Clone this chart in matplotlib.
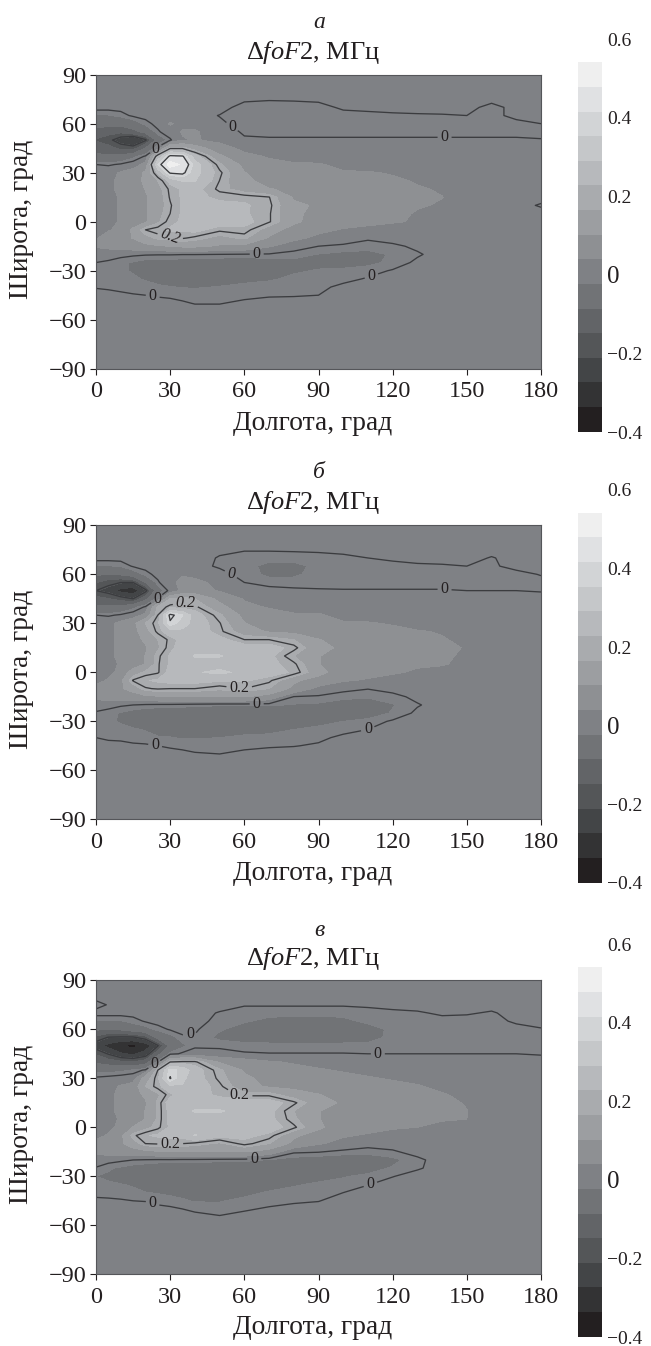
import numpy as np
import matplotlib
matplotlib.use("Agg")
import matplotlib.pyplot as plt
from matplotlib.colors import ListedColormap, BoundaryNorm

plt.rcParams['font.family'] = ['Liberation Serif', 'DejaVu Serif']
plt.rcParams['mathtext.fontset'] = 'custom'
plt.rcParams['mathtext.rm'] = 'Liberation Serif'
plt.rcParams['mathtext.it'] = 'Liberation Serif:italic'

W, H = 651, 1346
INK = '#231f20'

LON = [0,5,10,15,20,25,30,35,40,50,60,70,80,90,100,110,120,130,140,150,160,170,180]
LAT = [90,80,75,70,65,60,55,50,45,40,35,30,25,20,15,10,5,0,-5,-10,-15,-20,-25,-30,-35,-40,-45,-50,-55,-90]

# values in hundredths of MHz, rows follow LAT, columns follow LON
BG = [1,1,1,1,1,1,1,1,1,1,1,1,1,1,1,1,1,1,1,1,1,1,1]

PANEL_A = [
 BG, BG,
 [1,1,1,1,1,1,1,1,1,1,.5,.2,.3,.6,1,1,1,1,1,1,1,1,1],
 [1,1,1,1,1,1,1,1,1,1,-1,-1,-1,-1,.5,1,1,1,1,1,-1,1,1],
 [-2,-2,-1,.5,1,1,1,1,1,-.1,-1,-1,-1,-1,-1,-1,-.5,-.3,-.2,0,-1,1,1],
 [-6,-6,-6,-4,-1,1,5,3,3,.5,-1,-1,-1,-1,-1,-1,-1,-1,-1,-1,-1,-1,0],
 [-10,-12,-13,-10,-6,-.5,2,5,5,2,-.5,-1,-1,-1,-1,-1,-1,-1,-1,-1,-1,-1,-1],
 [-15,-18,-24,-28,-21,-5,-.5,4,5,3,.5,.5,.5,.5,.5,.5,.5,.5,.5,.5,.5,.5,.2],
 [-10,-12,-16,-17,-8,1,19,19,14,7,3,2,2,2,2,1.5,1.5,1.5,1.5,1.5,1.5,1.5,1.5],
 [-7,-7,-6,-3,.5,24,42,41,26,12,6,4,3,2,2,2,1.5,1.5,1,1,1,1,1],
 [0,-.5,.5,2,6,36,52,47,33,18,9,6,5,5,3,2,1.5,1,1,1,1,1,1],
 [2,3,5,7,12,24,41,42,32,21,11,8,7,6,5,5,4,2,1,1,1,1,1],
 [2,3,6,8,12,17,25,30,30,19.9,12,9,8,8,7,6,5.5,4,3,1,1,1,1],
 [2,3,6,8,11,15,21,24,25,19,14,11,10,10,8,7,6,5,4,2,1,1,1],
 [2,3,5,8,10,14,20.5,24,25,22,22,20.2,10,9,8,7,6,5.5,4.6,2,1,1,1],
 [2,3,5,7,10,14,19.5,24,25,25,24,21,12,10,8,7,6,5,4,2,1,1,-.3],
 [1,3,5,7,10,15,20,24,25,25,24,20.5,12,9,8,7,6,4,3,1,1,1,1],
 [1,3,5,7,10,16,22,24,26,26,25,20.5,12,8,7,6,5,4,2,1,1,1,1],
 [2,4,6,12,20,22,24,24,25,21,22,14,8,6,4,3,2,1,1,1,1,1,1],
 [4,7,9,11,15,18,19,20.5,19,15,18,10,6,3,1,.3,1,1,1,1,1,1,1],
 [5,6,7,8,9,10,11,12,12,10,9,5,1.5,0,-.3,-.8,-.5,.5,1,1,1,1,1],
 [2,1.5,1,.5,.3,.2,.2,.1,.1,0,-.2,-.3,-1,-1.9,-2.5,-2.7,-1.5,-.3,1,1,1,1,1],
 [0,-.5,-1.5,-2,-3,-3,-3,-3.5,-3.5,-4,-4,-3.5,-2.5,-2.2,-2.5,-2.5,-1.2,.5,1,1,1,1,1],
 [-1,-1,-1.5,-2,-3,-3.5,-3.5,-4,-4,-4,-4,-3.5,-2,-1.7,-1.5,-.8,.2,1,1,1,1,1,1],
 [-1,-1.2,-1.3,-1.5,-2,-2.5,-3,-3,-3,-2.8,-2.5,-2,-1.5,-1.2,-.6,.2,1,1,1,1,1,1,1],
 [-.2,-.5,-.7,-1,-1,-1.5,-1.7,-1.9,-2,-1.7,-1.2,-1.2,-1,-.5,.5,1,1,1,1,1,1,1,1],
 [1,1,.5,.2,0,-.3,-.5,-.7,-.8,-.8,-.6,-.3,-.2,0,1,1,1,1,1,1,1,1,1],
 [1,1,1,1,1,1,.8,.3,-.1,-.1,.5,1,1,1,1,1,1,1,1,1,1,1,1],
 BG, BG,
]

PANEL_B = [
 BG, BG,
 [1,1,1,1,1,1,1,1,1,.5,.2,.2,.3,.5,.6,1,1,1,1,1,1,1,1],
 [1,1,1,1,1,1,1,1,1,-.2,-1,-1,-1,-1,-.5,0,.5,1,1,1,-.2,1,1],
 [-2,-2,-1.5,.3,1,1,1,1,1,-.4,-1,-2.5,-2.5,-1.2,-1,-1,-.8,-.5,-.3,0,-.5,1,1],
 [-7,-8,-7,-4,-1,1,3,4,3,1,-1,-2.2,-2.2,-1,-1,-1,-1,-1,-1,-1,-1,-1,.2],
 [-14,-18,-20,-20,-8,-.5,3,6,6,3,0,-1,-1,-1,-1,-1,-1,-1,-1,-1,-1,-1,-1],
 [-20,-23,-29,-31,-22,-4,1,6,7,4,1.5,1,.5,.3,.2,.2,.2,.2,.2,0,0,0,-.3],
 [-12,-14,-17,-20,-10,.5,17,19,17,9,4,3,3,2,2,2,2,2,1.5,1.5,1.5,1.5,1.5],
 [-7,-7,-6,-3,.5,18,21,21,21,13,6,4,3,3,2,2,2,1.5,1,1,1,1,1],
 [0,-.5,.5,2,6,20,42,36,26,18,9,7,5,5,3,2,2,1,1,1,1,1,1],
 [2,3,6,9,17,22,39,33,27,20.3,11,8,7,6,5,5,4,2,1,1,1,1,1],
 [2,3,6,8,15,21,27,28,27,21,14,10,9,8,8,7,6,5,4,2,1,1,1],
 [2,3,6,8,12,17,21,25,25,25,20,20,17,11,9,8,7,6,5,3,1,1,1],
 [2,3,6,8,10,16,22,26,27,27,26,26,21.5,12,10,8,7,6,5.5,4.2,1,1,1],
 [2,3,6,8,11,19,24,27,30,30,27,25,17,11,9,8,7,6,5.5,3.5,1,1,1],
 [1,3,5,7,11,19.5,24,26,27,27,27,25,21,11,8,7,6,5,5,3,1,1,1],
 [1,3,6,14,18,19.5,25,25,29,31,28,26,22.5,13,7,6,5,4,2.5,1,1,1,1],
 [3,5,9,20.5,23,24,25,25,25,24,24,21,12,8,5,4,3,2,1,1,1,1,1],
 [6,8,10,13,19.5,20.5,20,20,20,18,20,17,9,3,.8,.1,.8,1,1,1,1,1,1],
 [6,7,8,8,9,10,11,11,11,11,11,8,-.2,-.5,-1.2,-1.5,-.7,.6,1,1,1,1,1],
 [2,1,.4,0,-.5,-.7,-.8,-1,-1.2,-1.5,-1.5,-1.5,-2,-2.2,-3,-3.5,-2,-.2,1,1,1,1,1],
 [-.5,-1,-2,-3,-3.5,-4,-4,-4,-4.5,-4.5,-4.5,-4.5,-3,-3.2,-3.5,-3.5,-1.5,.5,1,1,1,1,1],
 [-1,-1.5,-2,-3,-4,-4,-4.5,-4.5,-4.5,-4.5,-4.5,-4,-3,-2.5,-1.8,-1,.3,1,1,1,1,1,1],
 [-1,-1.2,-1.3,-1.5,-2,-3,-3,-3.5,-3.5,-3.5,-3,-2.5,-1.8,-1.3,-.7,0,1,1,1,1,1,1,1],
 [0,-.5,-.7,-1,-1,-1.5,-1.7,-2,-2,-1.8,-1.2,-1.2,-1,-.5,.5,1,1,1,1,1,1,1,1],
 [1,1,1,.5,.3,0,-.4,-.6,-.8,-.8,-.5,-.3,-.1,.3,1,1,1,1,1,1,1,1,1],
 [1,1,1,1,1,1,1,.6,.2,0,.5,1,1,1,1,1,1,1,1,1,1,1,1],
 BG, BG,
]

PANEL_C = [
 BG, BG,
 [-1,.2,1,1,1,1,1,1,1,1,.2,.2,.2,.2,.2,.5,1,1,1,1,1,1,1],
 [1,1,1,1,1,1,1,1,1,-.2,-1,-1,-1,-1,-1,-1,-.7,-.3,.4,.3,-.3,1,1],
 [-2,-2,-2,-1,.3,1,1,1,1,-.8,-1.5,-2.5,-3,-3,-2.5,-1.2,-1,-1,-.8,-1,-1,.5,1],
 [-7,-8,-7,-4,-3,-1,.3,1,.3,-1.5,-3,-3.5,-3.5,-3.5,-3.5,-3,-1.2,-1,-1,-1,-1,-1,-.2],
 [-16,-20.5,-21,-21,-17,-6,-3,-.5,-.2,-2.5,-3.5,-3.5,-3.5,-3.5,-3.5,-3,-1,-1,-1,-1,-1,-1,-1],
 [-24,-29,-33,-35,-31,-20.5,-6,-2.5,-.4,-.4,-.7,-1,-1,-1,-1,-1,-1,-1,-1,-1,-1,-1,-1],
 [-15,-20.5,-26,-28,-24,-10,-1,.5,1,.7,.2,.1,.1,.1,.1,0,0,0,0,0,0,0,-.3],
 [-9,-11,-13,-14,-11,-.5,20,21,21,10,7,5,4,3,2,2,1.5,1.5,1.5,1.5,1.5,1.5,1.5],
 [-3,-3,-2.5,-1.5,.5,20,38,34,26,18,10,7,6,5,4,3,2,2,1.5,1,1,1,1],
 [.5,1,1.5,2,14,22,40.5,31,26,19,12,9,7,6,6,5,4,3,2,1,1,1,1],
 [2,3,5,7,17,21.5,28,29,27,21,13,10,9,8,8,7,6,5,3,1,1,1,1],
 [2,3,6,8,12,16,22,26,26,22,19,19,14,11,9,8,7,6,5,3,1,1,1],
 [2,3,6,8,10,18,26,27,27,27,26,26,21,13,10,8,7,6,5.5,4.2,1,1,1],
 [2,3,6,8,11,18,25,28,30,30,28,25,17,11,9,8,7,6,5.5,4.6,1,1,1],
 [1,3,5,7,11,18,25,26,27,28,27,25,18,11,8,7,6,5,5,4.5,1,1,1],
 [1,3,6,11,15,19,24,25,27,29,28,26,21,12,7,6,5,4.5,3,1,1,1,1],
 [3,5,9,19,23,24,25,25,30,25,25,22,12,8,5,4,3,2,1,1,1,1,1],
 [6,8,10,14,20,20.5,20.5,20,19,16,21.5,17,9,5,3,1,1,1,1,1,1,1,1],
 [6,7,8,8,9,10,11,11,11,11,11,8,.5,.2,-.8,-1,-.3,.8,1,1,1,1,1],
 [1.5,1,.5,0,-.3,-.5,-.5,-.7,-.7,-1,-1.2,-2,-3,-3.5,-3.5,-3.5,-2.5,-.5,1,1,1,1,1],
 [-.2,-1.5,-2.2,-3,-3.5,-4,-4,-4.5,-4.5,-4.5,-4.5,-4.5,-3.5,-3.5,-3.5,-3,-1.5,-.3,1,1,1,1,1],
 [-1.8,-2.2,-3,-3.5,-4,-4.5,-4.5,-4.5,-4.5,-4.5,-4.5,-4,-3,-2.5,-2,-1.2,-.1,1,1,1,1,1,1],
 [-1.2,-1.5,-1.7,-2,-3,-3.5,-3.5,-4,-4,-4,-3.5,-3,-2,-1.5,-1,-.1,1,1,1,1,1,1,1],
 [-.7,-1,-1.2,-1.4,-1.7,-2,-2.5,-2.5,-3,-3,-2.5,-1.5,-1.2,-1,0,1,1,1,1,1,1,1,1],
 [.5,.5,.3,0,-.1,-.5,-.7,-1.5,-2,-2,-1.2,-.8,-.5,-.1,1,1,1,1,1,1,1,1,1],
 [1,1,1,1,1,.5,.3,0,-.5,-.8,-.3,.3,1,1,1,1,1,1,1,1,1,1,1],
 [1,1,1,1,1,1,1,1,.8,.2,.8,1,1,1,1,1,1,1,1,1,1,1,1],
 BG,
]

BAND_EDGES = [-0.394,-0.331,-0.268,-0.206,-0.143,-0.080,-0.018,0.045,0.108,0.170,0.233,0.296,0.358,0.421,0.484,0.547]
BAND_COLORS = ['#231f20','#333334','#434547','#545658','#626467','#717376','#7f8185','#8e9093',
               '#9c9ea1','#a9abae','#b7b9bc','#c5c7c9','#d2d4d6','#e0e1e3','#efefef']
LABELLED_LEVELS = [0,0.2]
PLAIN_LEVELS = [-0.2,0.4]
LETTERS = ['а','б','в']
LEFT_TICKS = [90,60,30,0,-30,-60,-90]
BOTTOM_TICKS = [0,30,60,90,120,150,180]
CB_LABELS = [(0.6,'0.6',14),(0.4,'0.4',14),(0.2,'0.2',14),(0,'0',18),(-0.2,'−0.2',14),(-0.4,'−0.4',14)]

LABELS_A = [(24,45),(54,56),(141,52),(65,-19),(112,-36),(23,-45),(30,-9)]
LABELS_B = [(25,44),(53,55),(141,51),(65,-19),(110,-35),(24,-44),(36,40),(58,-9)]
LABELS_C = [(23,40),(38,56),(114,45),(64,-18),(111,-35),(23,-46),(58,19),(30,-9)]
ITALIC_LABELS = [{6:-20},{1:0,6:0},{}]

# layout in pixels
TOPS = [74.7,525.3,980.3]
HEIGHT = 294.0
OFFS = [0,450.6,905]
LETTER_Y = [23,473,930]
TITLE_Y = [52,503,959]

fig = plt.figure(figsize=(W/100,H/100),dpi=100,facecolor='white')
cmap = ListedColormap(BAND_COLORS)
norm = BoundaryNorm(BAND_EDGES,cmap.N)

def fmt(v):
    return '0' if abs(v)<1e-9 else ('%.1f'%v).replace('-','−')

def axrect(l,t,w,h):
    return [l/W,1-(t+h)/H,w/W,h/H]

for i,(vals,lbls) in enumerate(zip([PANEL_A,PANEL_B,PANEL_C],[LABELS_A,LABELS_B,LABELS_C])):
    z = np.array(vals,dtype=float)/100
    ax = fig.add_axes(axrect(96,TOPS[i],445,HEIGHT))
    ax.set_xlim(0,180); ax.set_ylim(-90,90)
    cf = ax.contourf(LON,LAT,z,levels=BAND_EDGES,cmap=cmap,norm=norm)
    ax.contour(LON,LAT,z,levels=PLAIN_LEVELS,colors='#3b3c3f',linewidths=0.95,linestyles='solid')
    cs = ax.contour(LON,LAT,z,levels=LABELLED_LEVELS,colors='#3b3c3f',linewidths=0.95,linestyles='solid')
    ts = ax.clabel(cs,manual=lbls,fmt=fmt,fontsize=11.5,inline_spacing=3)
    for k,t in enumerate(ts):
        t.set_color(INK)
        t.set_rotation(ITALIC_LABELS[i].get(k,0))
        if k in ITALIC_LABELS[i]:
            t.set_style('italic')
    ax.set_xlim(0,180); ax.set_ylim(-90,90)
    ax.set_xticks(BOTTOM_TICKS); ax.set_yticks(LEFT_TICKS)
    ax.set_xticklabels([str(v) for v in BOTTOM_TICKS])
    ax.set_yticklabels([str(v).replace('-','−') for v in LEFT_TICKS])
    ax.tick_params(labelsize=17.5,length=4.5,width=0.8,color=INK,labelcolor=INK,pad=2.5)
    ax.tick_params(axis='x',pad=4.5)
    for s in ax.spines.values():
        s.set_linewidth(0.8); s.set_color('#55565a')
    fig.text(313/W,1-(OFFS[i]+423)/H,'Долгота, град',ha='center',va='center',fontsize=19.8,color=INK)
    fig.text(22/W,1-(OFFS[i]+219)/H,'Широта, град',ha='center',va='center',rotation=90,fontsize=19.8,color=INK)
    fig.text(319/W,1-LETTER_Y[i]/H,LETTERS[i],ha='center',va='center',fontsize=17,style='italic',color=INK)
    fig.text(313/W,1-TITLE_Y[i]/H,'Δ$\\mathit{foF}$2, МГц',ha='center',va='center',fontsize=19,color=INK)

    cax = fig.add_axes(axrect(578,62+OFFS[i],24,370))
    cb = fig.colorbar(cf,cax=cax,ticks=[],spacing='proportional')
    cb.outline.set_visible(False)
    cax.minorticks_off()
    cax.tick_params(which='both',length=0)
    tr = cax.get_yaxis_transform()
    for v,s,fs in CB_LABELS:
        cax.text(1.2,v,s,transform=tr,ha='left',va='center',fontsize=fs,color=INK,clip_on=False)

fig.savefig('out.png',dpi=100)
